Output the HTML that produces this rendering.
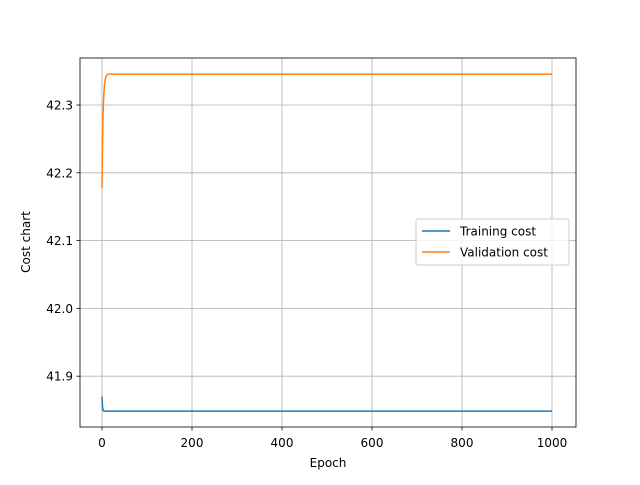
<!DOCTYPE html>
<html><head><meta charset="utf-8"><style>
body{margin:0;background:#fff}
svg text{font-family:"DejaVu Sans","Liberation Sans",sans-serif;font-size:12px;fill:#000}
</style></head><body>
<svg width="640" height="480" id="c"></svg>
<script>
const epochs=[0,1,2,3,4,5,6,7,8,9,10,11,12,14,16,18,20,1000];
const trainCost=[41.870,41.856,41.851,41.849,41.8486,41.8485,41.8485,41.8485,41.8485,41.8485,41.8485,41.8485,41.8485,41.8485,41.8485,41.8485,41.8485,41.8485];
const valCost=[42.178,42.240,42.278,42.300,42.315,42.325,42.332,42.337,42.340,42.342,42.343,42.344,42.3448,42.3453,42.3455,42.3455,42.3455,42.3455];
const xTicks=[0,200,400,600,800,1000];
const yTicks=[41.9,42.0,42.1,42.2,42.3];
const L=80,R=576,T=58,B=427;
const xs=v=>102+(v-0)*0.45;
const ys=v=>105-(v-42.3)*678;
const svg=document.getElementById('c');
const NS='http://www.w3.org/2000/svg';
function el(t,a,p){const e=document.createElementNS(NS,t);for(const k in a)e.setAttribute(k,a[k]);(p||svg).appendChild(e);return e;}
xTicks.forEach(v=>{const x=xs(v);
 const g=el('line',{x1:x,x2:x,y1:T,y2:B,stroke:'#b0b0b0','stroke-width':0.8});
 
 el('line',{x1:x,x2:x,y1:B,y2:B+3.5,stroke:'#000','stroke-width':0.8});
 const t=el('text',{x:x,y:B+20,'text-anchor':'middle'});t.textContent=v;
 });
yTicks.forEach(v=>{const y=ys(v);
 const g=el('line',{x1:L,x2:R,y1:y,y2:y,stroke:'#b0b0b0','stroke-width':0.8});
 
 el('line',{x1:L-3.5,x2:L,y1:y,y2:y,stroke:'#000','stroke-width':0.8});
 const t=el('text',{x:L-7,y:y+4.5,'text-anchor':'end'});t.textContent=v.toFixed(1);
 });
function line(vals,color,name){const p=el('polyline',{points:epochs.map((e,i)=>xs(e)+','+ys(vals[i])).join(' '),fill:'none',stroke:color,'stroke-width':1.5});
 }
line(trainCost,'#1f77b4','training-cost-line');
line(valCost,'#ff7f0e','validation-cost-line');
const fr=el('rect',{x:L,y:T,width:R-L,height:B-T,fill:'none',stroke:'#000','stroke-width':0.8});

const xl=el('text',{x:328,y:467,'text-anchor':'middle'});xl.textContent='Epoch';

const yl=el('text',{x:30,y:242,'text-anchor':'middle',transform:'rotate(-90 30 242)'});yl.textContent='Cost chart';

const lg=el('g',{});
el('rect',{x:416,y:219,width:153,height:46,rx:2,fill:'#fff','fill-opacity':0.8,stroke:'#ccc'},lg);
[['Training cost','#1f77b4',231],['Validation cost','#ff7f0e',252]].forEach(([n,c,y])=>{
 const e=el('g',{},lg);
 el('line',{x1:422,x2:450,y1:y,y2:y,stroke:c,'stroke-width':1.5},e);
 const t=el('text',{x:460,y:y+4.5},e);t.textContent=n;t.style.fontSize='12px';});
</script></body></html>
